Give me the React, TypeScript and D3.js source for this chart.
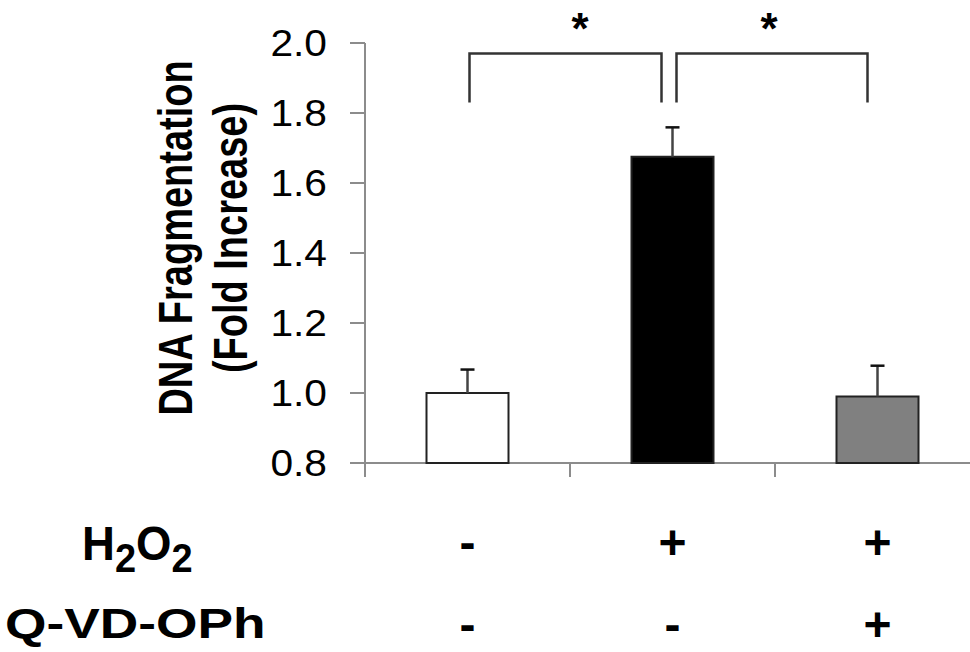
import React from "react";
import * as d3 from "d3";

// data
const groups = ["control", "h2o2", "h2o2_qvd"];
const means = [1.0, 1.675, 0.99];
const errors = [0.067, 0.084, 0.088];
const h2o2Signs = ["-", "+", "+"];
const qvdSigns = ["-", "-", "+"];
const yTicks = [0.8, 1.0, 1.2, 1.4, 1.6, 1.8, 2.0];
const sigFrom = [0, 1];
const sigTo = [1, 2];
const sigLabels = ["*", "*"];
const bracketTop = 1.97;
const bracketBottom = 1.83;

const fills = ["#ffffff", "#000000", "#808080"];
const FONT = "'Liberation Sans', Arial, Helvetica, sans-serif";
const AXIS = "#8c8c8c";
const starShift = [10, -6];

export default function App() {
  const W = 970, H = 652;
  const y = d3.scaleLinear().domain([0.8, 2.0]).range([463, 43]);
  const x = d3.scaleBand().domain(groups).range([365, 980]).paddingInner(0.6).paddingOuter(0.3);
  const step = x.step();
  const cx = (i: number) => (x(groups[i]) as number) + x.bandwidth() / 2;
  const y0 = y(0.8);

  return (
    <svg width={W} height={H} style={{ position: "absolute", left: 0, top: 0, background: "#fff" }}
      fontFamily={FONT}>
      {/* y axis */}
      <line x1={365} x2={365} y1={y(2.0)} y2={y0 + 14} stroke={AXIS} strokeWidth={2} />
      {yTicks.map((t) => (
        <g key={t}>
          <line x1={350} x2={365} y1={y(t)} y2={y(t)} stroke={AXIS} strokeWidth={2} />
          <text transform={`translate(327,${y(t)}) scale(1.1,1)`} textAnchor="end"
            dominantBaseline="central" fontSize={37} fill="#000">{d3.format(".1f")(t)}</text>
        </g>
      ))}
      {/* x axis */}
      <line x1={350} x2={W} y1={y0} y2={y0} stroke={AXIS} strokeWidth={2} />
      {groups.slice(1).map((g, i) => {
        const bx = 365 + step * (i + 1);
        return <line key={g} x1={bx} x2={bx} y1={y0} y2={y0 + 14} stroke={AXIS} strokeWidth={2} />;
      })}

      {/* bars */}
      {groups.map((g, i) => (
        <rect key={g} x={x(g)} y={y(means[i])} width={x.bandwidth()} height={y0 - y(means[i])}
          fill={fills[i]} stroke="#222" strokeWidth={2} />
      ))}
      {/* error bars */}
      {groups.map((g, i) => (
        <g key={g} stroke="#444" strokeWidth={2.5}>
          <line x1={cx(i)} x2={cx(i)} y1={y(means[i])} y2={y(means[i] + errors[i])} />
          <line x1={cx(i) - 7} x2={cx(i) + 7} y1={y(means[i] + errors[i])} y2={y(means[i] + errors[i])} stroke="#111" />
        </g>
      ))}

      {/* significance brackets */}
      {sigFrom.map((f, k) => {
        const xa = cx(f) + (k === 0 ? 2 : 4);
        const xb = cx(sigTo[k]) - (k === 0 ? 11 : 10);
        const yt = y(bracketTop), yb = y(bracketBottom);
        return (
          <g key={k}>
            <path d={`M${xa},${yb}V${yt}H${xb}V${yb}`} fill="none" stroke="#333" strokeWidth={2.5} />
            <text x={(cx(f) + cx(sigTo[k])) / 2 + starShift[k]} y={yt - 10} textAnchor="middle"
              fontSize={44} fontWeight="bold">{sigLabels[k]}</text>
          </g>
        );
      })}

      {/* y title */}
      <text transform={`translate(192,238) scale(1.28,1) rotate(-90)`} textAnchor="middle"
        fontSize={38} fontWeight="bold">DNA Fragmentation</text>
      <text transform={`translate(247,238) scale(1.28,1) rotate(-90)`} textAnchor="middle"
        fontSize={38} fontWeight="bold">(Fold Increase)</text>

      {/* treatment table */}
      <text transform="translate(82,560) scale(0.95,1)" fontSize={48} fontWeight="bold">
        H<tspan fontSize={40} dy={12}>2</tspan><tspan dy={-12}>O</tspan><tspan fontSize={40} dy={12}>2</tspan>
      </text>
      <text transform="translate(5,638) scale(1.24,1)" fontSize={43} fontWeight="bold">Q-VD-OPh</text>
      {groups.map((g, i) => (
        <g key={g} fontWeight="bold">
          <text x={cx(i)} y={559} textAnchor="middle" fontSize={48}>{h2o2Signs[i]}</text>
          <text x={cx(i)} y={641} textAnchor="middle" fontSize={48}>{qvdSigns[i]}</text>
        </g>
      ))}
    </svg>
  );
}
